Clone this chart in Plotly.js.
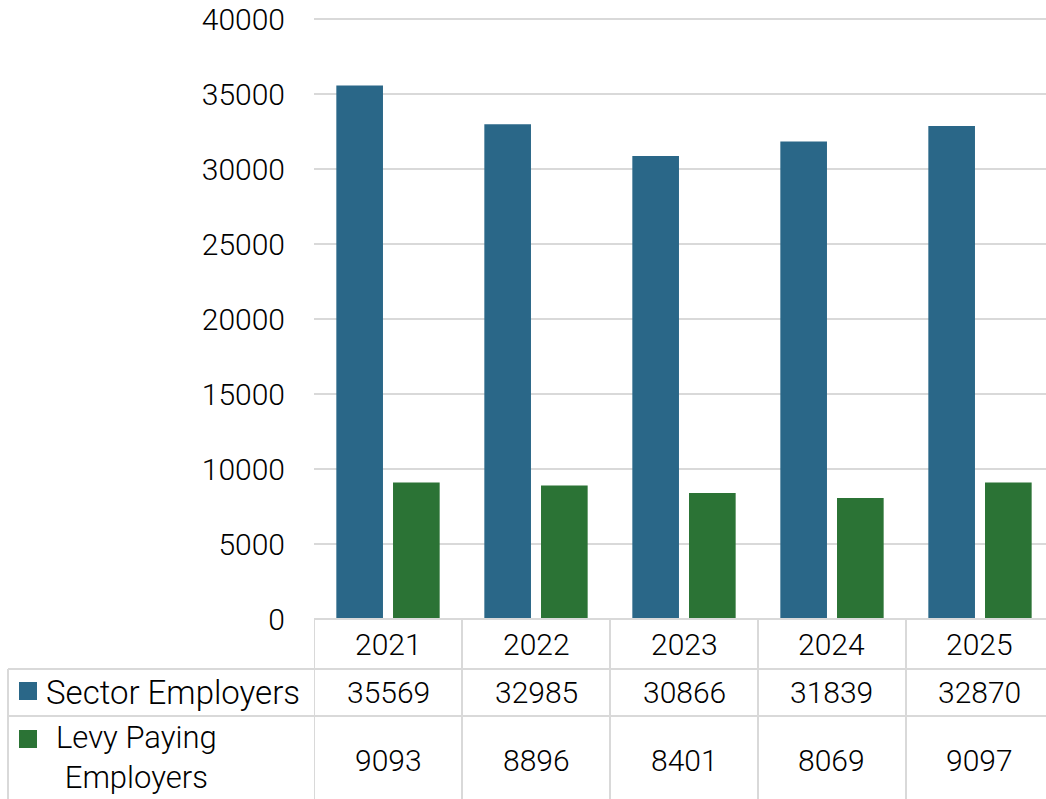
<!DOCTYPE html>
<html>
<head>
<meta charset="utf-8">
<script src="https://cdn.plot.ly/plotly-3.0.1.min.js"></script>
<style>html,body{margin:0;padding:0;background:#fff;}#chart{width:1046px;height:799px;}</style>
</head>
<body>
<div id="chart"></div>
<script>
const years = ["2021", "2022", "2023", "2024", "2025"];
const sectorEmployers = [35569, 32985, 30866, 31839, 32870];
const levyPayingEmployers = [9093, 8896, 8401, 8069, 9097];
const seriesNames = ["Sector Employers", "Levy Paying Employers"];
const seriesTableLabels = ["Sector Employers", "Levy Paying<br>Employers"];
const yTicks = [0, 5000, 10000, 15000, 20000, 25000, 30000, 35000, 40000];

const FONT = "Roboto, Open Sans, sans-serif";
const GRID = "#d9d9d9";
const BLUE = "#2a6788";
const GREEN = "#2b7335";

const traces = [
  {type: "bar", name: seriesNames[0], x: years, y: sectorEmployers,
   marker: {color: BLUE}, hoverinfo: "x+y"},
  {type: "bar", name: seriesNames[1], x: years, y: levyPayingEmployers,
   marker: {color: GREEN}, hoverinfo: "x+y"}
];

// plot area: top at 16px, height 603px for 0..40200 => 40000 lands at y=19
const H = 603, B = 180;
const py = (pix) => (799 - B - pix) / H;   // page pixel y -> paper y
const px = (pix) => (pix - 314) / 732;     // page pixel x -> paper x

const shapes = [];
const line = {color: GRID, width: 2};
shapes.push({type: "line", xref: "paper", yref: "paper", x0: 0, x1: 1, y0: 0, y1: 0, line});
shapes.push({type: "line", xref: "paper", yref: "paper", x0: px(8), x1: 1, y0: py(669), y1: py(669), line});
shapes.push({type: "line", xref: "paper", yref: "paper", x0: px(8), x1: 1, y0: py(716), y1: py(716), line});
shapes.push({type: "line", xref: "paper", yref: "paper", x0: px(8), x1: px(8), y0: py(669), y1: py(800), line});
for (let i = 0; i < years.length; i++) {
  shapes.push({type: "line", xref: "x", yref: "paper", x0: i - 0.5, x1: i - 0.5, y0: 0, y1: py(800), line});
}
shapes.push({type: "rect", xref: "paper", yref: "paper", x0: px(19), x1: px(37), y0: py(682), y1: py(700), fillcolor: BLUE, line: {width: 0}});
shapes.push({type: "rect", xref: "paper", yref: "paper", x0: px(19), x1: px(37), y0: py(730), y1: py(748), fillcolor: GREEN, line: {width: 0}});

const tfont = {family: FONT, size: 30, color: "#000", weight: 300};
const annotations = [];
years.forEach((yr, i) => {
  annotations.push({xref: "x", yref: "paper", x: i, y: py(644), text: yr, showarrow: false, font: tfont, xanchor: "center", yanchor: "middle"});
  annotations.push({xref: "x", yref: "paper", x: i, y: py(692), text: String(sectorEmployers[i]), showarrow: false, font: tfont, xanchor: "center", yanchor: "middle"});
  annotations.push({xref: "x", yref: "paper", x: i, y: py(760), text: String(levyPayingEmployers[i]), showarrow: false, font: tfont, xanchor: "center", yanchor: "middle"});
});
annotations.push({xref: "paper", yref: "paper", x: px(44), y: py(692), text: seriesTableLabels[0], showarrow: false,
                  font: {family: FONT, size: 33, color: "#000", weight: 300}, xanchor: "left", yanchor: "middle"});
annotations.push({xref: "paper", yref: "paper", x: px(136.5), y: py(757), text: seriesTableLabels[1], showarrow: false,
                  font: {family: FONT, size: 31, color: "#000", weight: 300}, xanchor: "center", yanchor: "middle", align: "center"});

const layout = {
  width: 1046, height: 799,
  margin: {l: 314, r: 0, t: 16, b: B, pad: 0},
  paper_bgcolor: "#fff", plot_bgcolor: "#fff",
  showlegend: false,
  barmode: "group", bargap: 0.234, bargroupgap: 0.177,
  font: {family: FONT, size: 30, color: "#000"},
  xaxis: {type: "category", range: [-0.5, 4.446], showticklabels: false, showgrid: false,
          zeroline: false, showline: false, ticks: "", fixedrange: true},
  yaxis: {range: [0, 40200], tickvals: yTicks, ticktext: yTicks.map(String),
          showgrid: true, gridcolor: GRID, gridwidth: 2, zeroline: false, showline: false,
          ticks: "", ticklabelstandoff: 28, ticklabeloverflow: "allow", tickfont: tfont, fixedrange: true},
  shapes, annotations
};

Plotly.newPlot("chart", traces, layout, {displayModeBar: false, staticPlot: true});
</script>
</body>
</html>
